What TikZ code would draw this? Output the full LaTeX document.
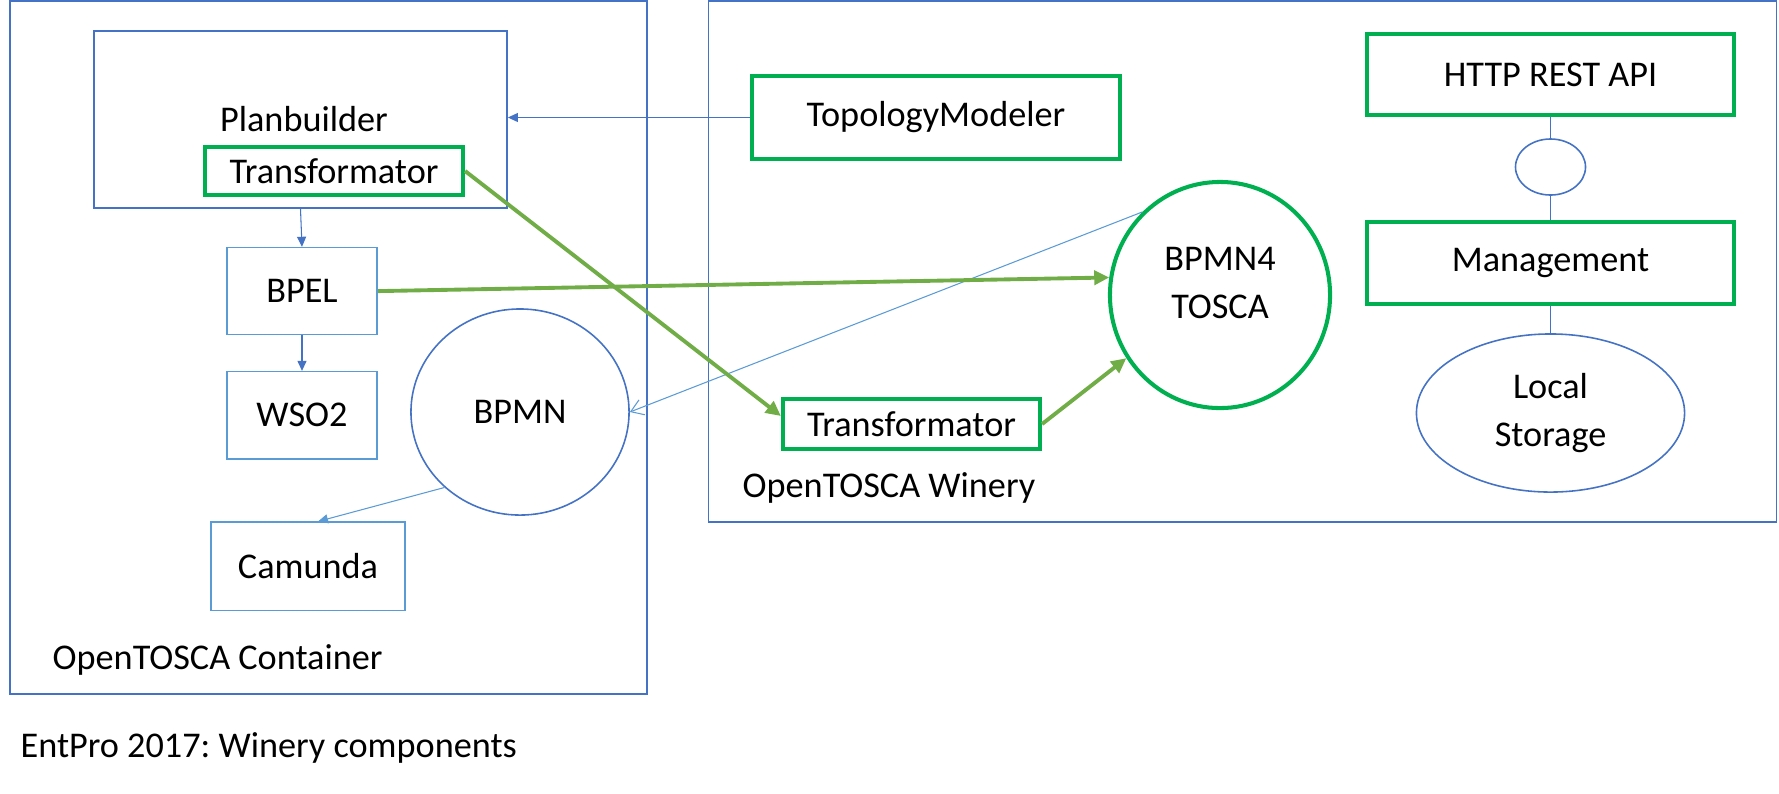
\documentclass[tikz,border=0pt]{standalone}
\usepackage{fontspec}
\setmainfont{Carlito}
\usepackage{tikz}
\usetikzlibrary{shapes.geometric, arrows.meta, positioning}
\frenchspacing
\definecolor{boxblue}{HTML}{4472C4}
\definecolor{lightblue}{HTML}{5B9BD5}
\definecolor{boxgreen}{HTML}{00B050}
\definecolor{arrowgreen}{HTML}{70AD47}
\tikzstyle{frame}=
[
	rectangle
	,draw=boxblue
	,line width=0.45pt
	,inner sep=0pt
]
\tikzstyle{bluebox}=
[
	rectangle
	,draw=lightblue
	,line width=0.45pt
	,minimum width=1.5cm
	,minimum height=0.87cm
	,inner sep=0pt
	,fill=white
]
\tikzstyle{greenbox}=
[
	rectangle
	,draw=boxgreen
	,line width=1.15pt
	,inner sep=0pt
	,fill=white
]
\tikzstyle{cloud}=
[
	draw=boxblue
	,ellipse
	,line width=0.45pt
	,inner sep=0pt
	,align=center
]
\tikzstyle{greencloud}=
[
	draw=boxgreen
	,ellipse
	,line width=1.15pt
	,inner sep=0pt
	,align=center
	,fill=white
]
\tikzstyle{khongvien}=
[
	anchor=west
	,inner sep=0pt
	,align=center
]
\tikzstyle{arrow} = [draw=boxblue,line width=0.3pt,-{Triangle[length=0.1cm,width=0.09cm]}]
\tikzstyle{openarrow} = [draw=lightblue,line width=0.3pt,-{Straight Barb[length=0.12cm,width=0.16cm]}]
\tikzstyle{greenarrow} = [draw=arrowgreen,line width=1.1pt,-{Triangle[length=0.15cm,width=0.14cm]}]
\tikzstyle{line} = [draw=boxblue,line width=0.3pt,-]

\begin{document}
\begin{tikzpicture}[x=0.01cm,y=-0.01cm,font=\fontsize{10.3}{13.4}\selectfont]
\useasboundingbox (0,0) rectangle (1779,793);

% OpenTOSCA Container
\node(container)[frame,minimum width=6.37cm,minimum height=6.93cm] at (328.5,347.5){};
\node(plan)[frame,minimum width=4.13cm,minimum height=1.77cm] at (300.5,119.5){};
\node(planlabel) at (304,119){Planbuilder};
\node(ptrans)[greenbox,minimum width=2.58cm,minimum height=0.48cm] at (334,171){Transformator};
\node(bpel)[bluebox,below of=plan,node distance=1.715cm,xshift=0.015cm]{BPEL};
\node(wso)[bluebox,below of=bpel,node distance=1.24cm]{WSO2};
\node(bpmn)[cloud,minimum width=2.18cm,minimum height=2.06cm] at (520,412){BPMN};
\node(camunda)[bluebox,below of=wso,node distance=1.51cm,xshift=0.06cm,minimum width=1.94cm,minimum height=0.88cm]{Camunda};
\node(ctitle)[khongvien] at (52,660){OpenTOSCA Container};

% OpenTOSCA Winery
\node(winery)[frame,minimum width=10.67cm,minimum height=5.21cm] at (1242.5,261.5){};
\node(topo)[greenbox,minimum width=3.68cm,minimum height=0.83cm] at (936,117.5){TopologyModeler};
\node(http)[greenbox,minimum width=3.67cm,minimum height=0.81cm] at (1550.5,74.5){HTTP REST API};
\node(iface)[cloud,minimum width=0.7cm,minimum height=0.56cm] at (1550.5,167){};
\node(mgmt)[greenbox,minimum width=3.67cm,minimum height=0.82cm] at (1550.5,263){Management};
\node(storage)[cloud,minimum width=2.68cm,minimum height=1.58cm] at (1550.5,413){Local\\Storage};
\node(bpmnfour)[greencloud,minimum width=2.2cm,minimum height=2.26cm] at (1220,295){};
\node(bpmnfourtext)[align=center,inner sep=0pt] at (1220,283){BPMN4\\TOSCA};
\node(wtrans)[greenbox,minimum width=2.57cm,minimum height=0.5cm] at (911.5,424){Transformator};
\node(wtitle)[khongvien] at (742,488){OpenTOSCA Winery};

\node(caption)[khongvien] at (20,748){EntPro 2017: Winery components};

\draw[arrow](topo.west)--(topo.west -| plan.east);
\draw[arrow](plan.south)--(bpel.north);
\draw[arrow](bpel.south)--(wso.north);
\draw[arrow,draw=lightblue](bpmn.225)--([xshift=0.1cm]camunda.north);
\draw[openarrow](bpmnfour.133)--(bpmn.east);

\draw[line](http.south)--(iface.north);
\draw[line](iface.south)--(mgmt.north);
\draw[line](mgmt.south)--(storage.north);

\draw[greenarrow](ptrans.east)--([yshift=0.08cm]wtrans.west);
\draw[greenarrow](bpel.east)--(bpmnfour.171);
\draw[greenarrow](wtrans.east)--(bpmnfour.214);

\end{tikzpicture}
\end{document}
